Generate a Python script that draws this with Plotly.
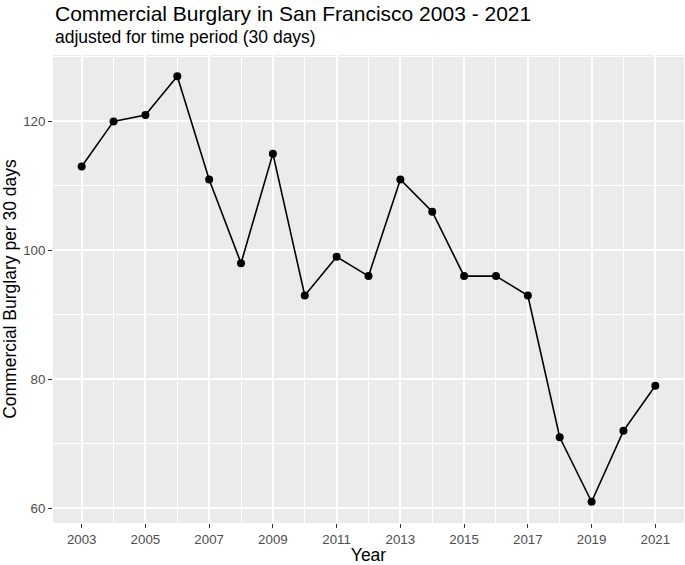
import plotly.graph_objects as go

years = list(range(2003, 2022))
burglary = [113, 120, 121, 127, 111, 98, 115, 93, 99, 96, 111, 106, 96, 96, 93, 71, 61, 72, 79]
x_ticks = [2003, 2005, 2007, 2009, 2011, 2013, 2015, 2017, 2019, 2021]
y_ticks = [60, 80, 100, 120]

FONT = "Liberation Sans, Arial, sans-serif"
PANEL_H = 565 - 55 - 42

fig = go.Figure()
fig.add_trace(go.Scatter(
    x=years, y=burglary, mode="lines+markers",
    line=dict(color="black", width=1.6),
    marker=dict(color="black", size=8),
    showlegend=False, hoverinfo="skip",
))

fig.update_layout(
    width=685, height=565,
    margin=dict(l=53, r=1, t=55, b=42),
    paper_bgcolor="white",
    plot_bgcolor="#ebebeb",
    font=dict(family=FONT, color="black"),
    xaxis=dict(
        range=[2002.1, 2021.9], tickvals=x_ticks, ticktext=[str(v) for v in x_ticks],
        showgrid=True, gridcolor="white", gridwidth=1.8, zeroline=False, automargin=False,
        ticks="outside", ticklen=4, tickwidth=1.2, tickcolor="#333333",
        tickfont=dict(size=13.3, color="#4d4d4d", family=FONT),
        title=dict(text="Year", font=dict(size=17.5, color="black", family=FONT), standoff=1),
        minor=dict(tickvals=list(range(2002, 2023)), showgrid=True, gridcolor="white", gridwidth=0.8, ticks=""),
    ),
    yaxis=dict(
        range=[57.7, 130.3], tickvals=y_ticks,
        showgrid=True, gridcolor="white", gridwidth=1.8, zeroline=False, automargin=False,
        ticks="outside", ticklen=4, tickwidth=1.2, tickcolor="#333333",
        tickfont=dict(size=13.3, color="#4d4d4d", family=FONT),
        title=dict(text="Commercial Burglary per 30 days", font=dict(size=17.5, color="black", family=FONT), standoff=3),
        minor=dict(tickvals=[70, 90, 110, 130], showgrid=True, gridcolor="white", gridwidth=0.8, ticks=""),
    ),
    annotations=[
        dict(text="Commercial Burglary in San Francisco 2003 - 2021", xref="paper", yref="paper",
             x=0, y=1 + 42 / PANEL_H, xanchor="left", yanchor="middle", showarrow=False,
             font=dict(size=21, color="black", family=FONT)),
        dict(text="adjusted for time period (30 days)", xref="paper", yref="paper",
             x=0, y=1 + 18 / PANEL_H, xanchor="left", yanchor="middle", showarrow=False,
             font=dict(size=17.5, color="black", family=FONT)),
    ],
)

fig.write_html("out.html", config={"displayModeBar": False},
               post_script="document.body.style.margin='0px';")
